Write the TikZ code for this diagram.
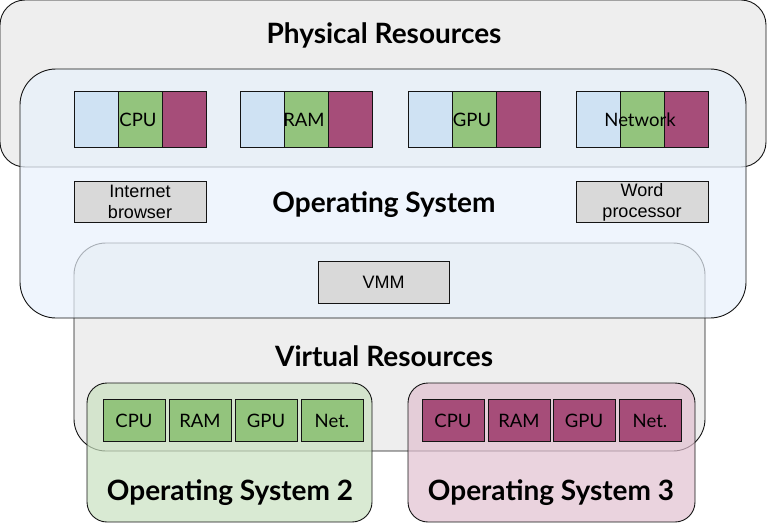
\documentclass[tikz,border=0pt]{standalone}
\usepackage{fontspec}
\setmainfont{Lato}
\newfontfamily\arialf{Liberation Sans}
\definecolor{physgray}{RGB}{238,238,238}
\definecolor{osblue}{RGB}{232,241,252}
\definecolor{osgreen}{RGB}{201,225,192}
\definecolor{ospink}{RGB}{225,192,208}
\definecolor{lblue}{RGB}{207,226,243}
\definecolor{sgreen}{RGB}{147,196,125}
\definecolor{smag}{RGB}{166,77,121}
\definecolor{appgray}{RGB}{217,217,217}
\definecolor{edge}{RGB}{20,20,20}
\tikzset{
  container/.style={draw=edge, rounded corners=#1, inner sep=0pt, outer sep=0pt},
  seg/.style={draw=edge, minimum width=44pt, minimum height=56pt, inner sep=0pt},
  lbl/.style={font=\fontsize{18.5}{21}\selectfont, inner sep=0pt},
  vbox/.style={draw=edge, minimum width=62pt, minimum height=42pt, inner sep=0pt, font=\fontsize{18.5}{21}\selectfont},
  app/.style={draw=edge, fill=appgray, minimum width=132pt, minimum height=41pt, inner sep=0pt, align=center, font=\arialf\fontsize{18}{21}\selectfont},
  title/.style={font=\bfseries\fontsize{28}{32}\selectfont, anchor=base, inner sep=0pt},
  semi/.style={fill opacity=0.7, text opacity=1}
}
\begin{document}
\begin{tikzpicture}[x=1pt,y=-1pt,line width=0.9pt]
\useasboundingbox (0,0) rectangle (767,524);
% Physical resources
\node[container=25pt, fill=physgray, minimum width=766pt, minimum height=167pt] (phys) at (383,83.5) {};
\node[title] (physl) at (384,44) {Physical Resources};
% Virtual resources (under OS)
\node[container=32pt, fill=physgray, minimum width=631pt, minimum height=208pt] (vr) at (389.5,347) {};
\node[title] (vrl) at (384,366) {Virtual Resources};
% Operating system
\node[container=36pt, fill=osblue, semi, minimum width=726pt, minimum height=249pt] (os) at (383,193.5) {};
\node[title] (osl) at (384,212) {Operating System};
% resource segments
\foreach \n/\x/\t in {cpu/74/CPU, ram/240/RAM, gpu/408/GPU, net/576/Network}{
  \node[seg, fill=lblue] (\n a) at (\x+22,119) {};
  \node[seg, fill=sgreen] (\n b) at (\x+66,119) {};
  \node[seg, fill=smag] (\n c) at (\x+110,119) {};
  \node[lbl] (\n t) at (\x+64,119.5) {\t};
}
\node[app] (browser) at (140,202) {Internet\\browser};
\node[app] (word) at (642,202) {Word\\processor};
\node[app, minimum height=42pt, minimum width=131pt] (vmm) at (383.5,282) {VMM};
% OS 2 and OS 3
\node[container=20pt, fill=osgreen, semi, minimum width=285pt, minimum height=139pt] (os2) at (229.5,452.5) {};
\node[container=20pt, fill=ospink, semi, minimum width=287pt, minimum height=139pt] (os3) at (551.5,452.5) {};
\node[title] (os2l) at (230,500) {Operating System 2};
\node[title] (os3l) at (551,500) {Operating System 3};
\foreach \n/\x/\t in {a/134/CPU, b/200/RAM, c/266/GPU, d/332/Net.}{
  \node[vbox, fill=sgreen] (g\n) at (\x,420.5) {\t};
}
\foreach \n/\x/\t in {a/453/CPU, b/519/RAM, c/584/GPU, d/650/Net.}{
  \node[vbox, fill=smag] (m\n) at (\x,420.5) {\t};
}
\end{tikzpicture}
\end{document}
